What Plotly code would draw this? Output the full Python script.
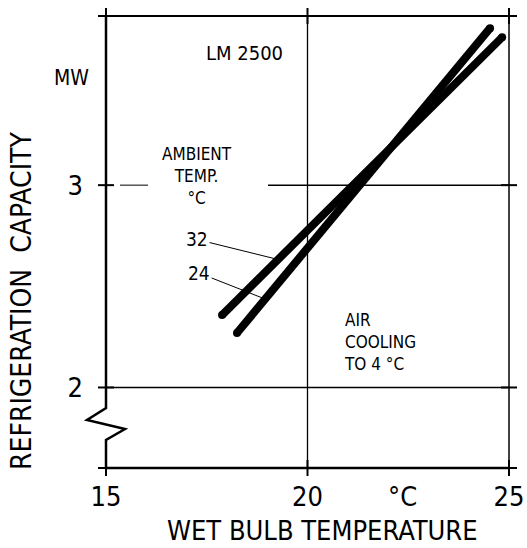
import numpy as np
import plotly.graph_objects as go

# ---------------- data ----------------
wet_bulb_32 = [17.88, 24.83]
capacity_32 = [2.358, 3.731]
wet_bulb_24 = [18.25, 24.53]
capacity_24 = [2.269, 3.776]
series_labels = ["32", "24"]
x_tick_vals = [15, 20, 25]
x_tick_text = ["15", "20", "25"]
y_tick_vals = [2, 3]
y_tick_text = ["2", "3"]

# ---------------- layout helpers ----------------
X_RANGE = [15, 25]
Y_RANGE = [1.602, 3.836]
W, H = 527, 548
ML, MR, MT, MB = 106, 18, 16, 80
PW = W - ML - MR
PH = H - MT - MB
FONT = "DejaVu Sans Condensed, DejaVu Sans, sans-serif"


def px_x(p):
    return (p - ML) / PW


def px_y(p):
    return (H - MB - p) / PH


def dx(v):
    return (v - X_RANGE[0]) / (X_RANGE[1] - X_RANGE[0])


def dy(v):
    return (v - Y_RANGE[0]) / (Y_RANGE[1] - Y_RANGE[0])


fig = go.Figure()
for xs, ys in [(wet_bulb_32, capacity_32), (wet_bulb_24, capacity_24)]:
    fig.add_trace(go.Scatter(
        x=xs, y=ys, mode="lines+markers",
        line=dict(color="black", width=8),
        marker=dict(color="black", size=8),
        hoverinfo="skip", showlegend=False, cliponaxis=False))

shapes = []


def seg(x0, y0, x1, y1, w=1.5):
    shapes.append(dict(type="line", xref="paper", yref="paper",
                       x0=x0, y0=y0, x1=x1, y1=y1,
                       line=dict(color="black", width=w), layer="above"))


# borders
seg(0, 1, 1, 1, 2)
seg(0, 0, 1, 0, 2.5)
seg(1, 0, 1, 1, 1.5)
# left axis with break symbol
path = "M {0},{1} L {0},{2} L {3},{4} L {5},{6} L {0},{7} L {0},{8}".format(
    0, 1, px_y(408), px_x(87), px_y(420), px_x(125), px_y(429), px_y(440), 0)
shapes.append(dict(type="path", xref="paper", yref="paper", path=path,
                   line=dict(color="black", width=2.5), layer="above"))
# grid
seg(dx(20), 0, dx(20), 1, 1.3)
seg(0, dy(2), 1, dy(2), 1.5)
seg(px_x(120), dy(3), px_x(148), dy(3), 1)
seg(px_x(268), dy(3), 1, dy(3), 1.5)
# tick crosses
tx = 8 / PW
ty = 8 / PH
for v in x_tick_vals:
    seg(dx(v), -ty, dx(v), ty, 2)
    seg(dx(v), 1 - ty, dx(v), 1 + ty, 2)
for v in y_tick_vals + [Y_RANGE[0], Y_RANGE[1]]:
    seg(-tx, dy(v), tx, dy(v), 2)
    seg(1 - tx, dy(v), 1 + tx, dy(v), 2)

ann = []


def txt(s, x, y, size, xanchor="center", angle=0, align="center"):
    ann.append(dict(text=s, xref="paper", yref="paper", x=px_x(x), y=px_y(y),
                    xanchor=xanchor, yanchor="middle", showarrow=False,
                    textangle=angle, align=align,
                    font=dict(family=FONT, size=size, color="black")))


txt("LM 2500", 244, 53, 20)
txt("MW", 71, 78, 21)
txt("AMBIENT<br>TEMP.<br>°C", 197, 176, 17)
txt("AIR<br>COOLING<br>TO 4 °C", 342, 342, 17, "left", align="left")
txt("°C", 402, 497, 27)
txt("WET BULB TEMPERATURE", 322, 530, 27)
txt("REFRIGERATION  CAPACITY", 22, 301, 28, angle=-90)

# series labels with leader lines
for lab, xs, ys, xp, off in [
        (series_labels[0], wet_bulb_32, capacity_32, 19.27, (-81, -20)),
        (series_labels[1], wet_bulb_24, capacity_24, 18.95, (-66, -26))]:
    ann.append(dict(text=lab, x=xp, y=float(np.interp(xp, xs, ys)),
                    xref="x", yref="y", ax=off[0], ay=off[1],
                    showarrow=True, arrowhead=0, arrowwidth=1, arrowcolor="black",
                    standoff=0, font=dict(family=FONT, size=19, color="black")))

fig.update_layout(
    width=W, height=H,
    margin=dict(l=ML, r=MR, t=MT, b=MB, pad=0, autoexpand=False),
    paper_bgcolor="white", plot_bgcolor="white",
    shapes=shapes, annotations=ann,
    font=dict(family=FONT, color="black"),
    xaxis=dict(range=X_RANGE, tickvals=x_tick_vals, ticktext=x_tick_text,
               showgrid=False, zeroline=False, showline=False, ticks="",
               automargin=False,
               tickfont=dict(size=27), ticklabelstandoff=10),
    yaxis=dict(range=Y_RANGE, tickvals=y_tick_vals, ticktext=y_tick_text,
               showgrid=False, zeroline=False, showline=False, ticks="",
               automargin=False,
               tickfont=dict(size=27), ticklabelstandoff=22),
)

fig.write_html("out.html", config={"displayModeBar": False},
               post_script="document.body.style.margin='0px';document.body.style.padding='0px';")
